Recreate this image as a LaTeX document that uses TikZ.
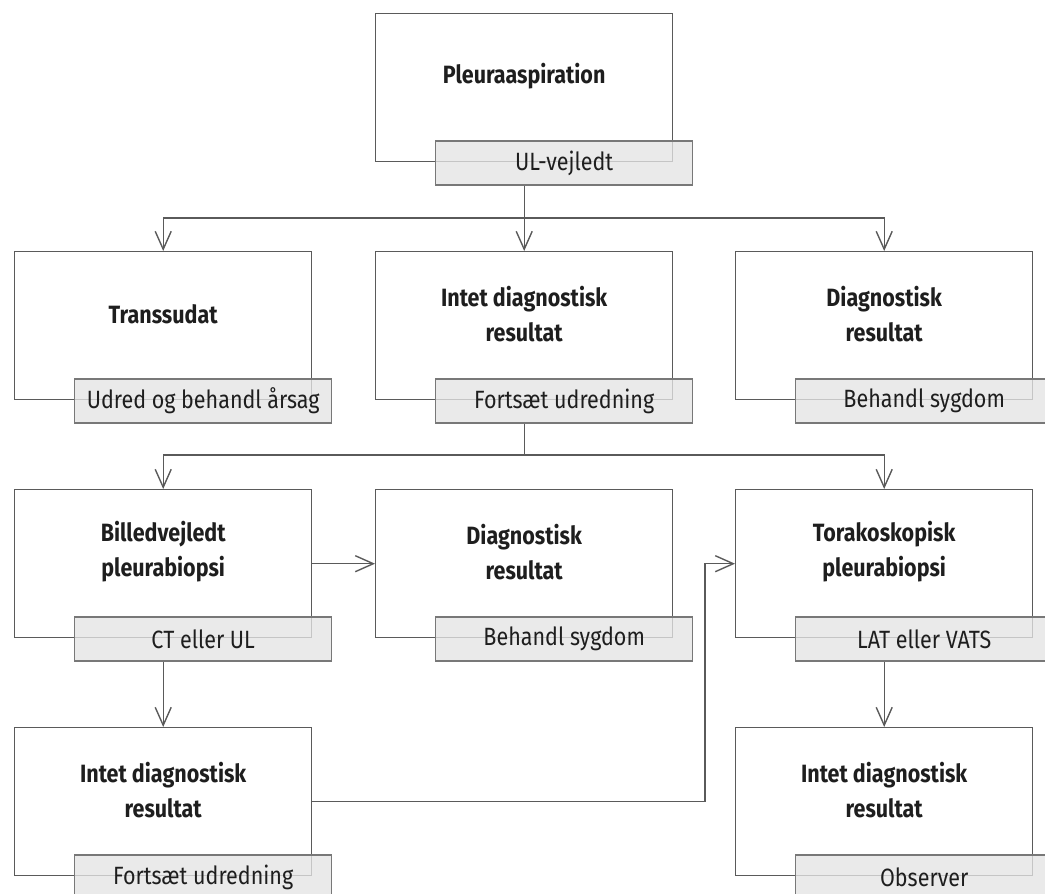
\documentclass[tikz,border=0pt]{standalone}
\usepackage{fontspec}
\setmainfont{Fira Sans}[FakeStretch=0.86]
\usetikzlibrary{arrows.meta,calc}
\definecolor{linec}{HTML}{5A5A5A}
\definecolor{subfill}{HTML}{E4E4E4}
\definecolor{subline}{HTML}{787878}
\definecolor{txt}{HTML}{1E1E1E}
\tikzset{
  mainbox/.style={draw=linec, line width=1.4pt, minimum width=297pt, minimum height=148pt, anchor=north west, inner sep=0pt},
  subbox/.style={draw=subline, fill=subfill, fill opacity=0.78, text opacity=1, line width=1.4pt, minimum width=257pt, minimum height=44pt, anchor=north west, inner sep=0pt, font=\fontsize{25}{29}\selectfont, text=txt},
  title/.style={font=\bfseries\fontsize{25}{35}\selectfont, align=center, text=txt, inner sep=0pt},
  conn/.style={draw=linec, line width=1.4pt},
  arr/.style={conn, -{Straight Barb[length=18pt,width=16pt]}}
}
\begin{document}
\begin{tikzpicture}[x=1pt,y=-1pt]
\useasboundingbox (0,0) rectangle (1045,894);
% boxes
\node[mainbox] (A) at (375,13) {};
\node[mainbox] (B1) at (14,251) {};
\node[mainbox] (B2) at (375,251) {};
\node[mainbox] (B3) at (735,251) {};
\node[mainbox] (C1) at (14,489) {};
\node[mainbox] (C2) at (375,489) {};
\node[mainbox] (C3) at (735,489) {};
\node[mainbox] (D1) at (14,727) {};
\node[mainbox] (D3) at (735,727) {};
% titles
\node[title] (At)  at ($(A.north)+(0,63)$)  {Pleuraaspiration};
\node[title] (B1t) at ($(B1.north)+(0,63)$) {Transsudat};
\node[title] (B2t) at ($(B2.north)+(0,63)$) {Intet diagnostisk\\resultat};
\node[title] (B3t) at ($(B3.north)+(0,63)$) {Diagnostisk\\resultat};
\node[title] (C1t) at ($(C1.north)+(0,63)$) {Billedvejledt\\pleurabiopsi};
\node[title] (C2t) at ($(C2.north)+(0,63)$) {Diagnostisk\\resultat};
\node[title] (C3t) at ($(C3.north)+(0,63)$) {Torakoskopisk\\pleurabiopsi};
\node[title] (D1t) at ($(D1.north)+(0,63)$) {Intet diagnostisk\\resultat};
\node[title] (D3t) at ($(D3.north)+(0,63)$) {Intet diagnostisk\\resultat};
% sub boxes
\node[subbox] (Ag)  at ($(A.south west)+(60,-22)$)  {UL-vejledt};
\node[subbox] (B1g) at ($(B1.south west)+(60,-22)$) {Udred og behandl årsag};
\node[subbox] (B2g) at ($(B2.south west)+(60,-22)$) {Fortsæt udredning};
\node[subbox] (B3g) at ($(B3.south west)+(60,-22)$) {Behandl sygdom};
\node[subbox] (C1g) at ($(C1.south west)+(60,-22)$) {CT eller UL};
\node[subbox] (C2g) at ($(C2.south west)+(60,-22)$) {Behandl sygdom};
\node[subbox] (C3g) at ($(C3.south west)+(60,-22)$) {LAT eller VATS};
\node[subbox] (D1g) at ($(D1.south west)+(60,-22)$) {Fortsæt udredning};
\node[subbox] (D3g) at ($(D3.south west)+(60,-22)$) {Observer};
% connectors
\coordinate (j1) at (A.south |- 0,218);
\coordinate (j2) at (B2.south |- 0,455);
\draw[conn] (Ag.south -| A.south) -- (j1);
\draw[arr] (j1) -- (B2.north);
\draw[arr] (j1) -| (B1.north);
\draw[arr] (j1) -| (B3.north);
\draw[conn] (B2g.south -| B2.south) -- (j2);
\draw[arr] (j2) -| (C1.north);
\draw[arr] (j2) -| (C3.north);
\draw[arr] (C1.east) -- (C2.west);
\coordinate (k1) at (705,0);
\draw[arr] (D1.east) -| (k1 |- C3.west) -- (C3.west);
\draw[arr] (C1g.south -| C1.south) -- (D1.north);
\draw[arr] (C3g.south -| C3.south) -- (D3.north);
\end{tikzpicture}
\end{document}
